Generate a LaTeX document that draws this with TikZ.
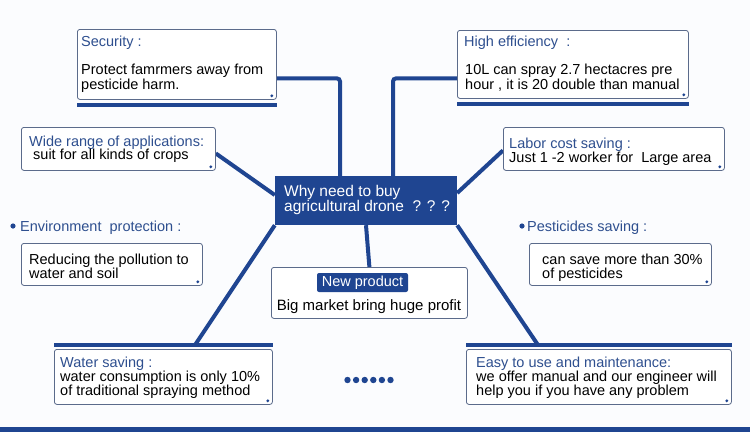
\documentclass[tikz,border=0pt]{standalone}
\usepackage{fontspec}
\setmainfont{Liberation Sans}
\usetikzlibrary{positioning, backgrounds}
\definecolor{dronblue}{HTML}{1F4591}
\definecolor{titleblue}{HTML}{2E4F8F}
\definecolor{boxline}{HTML}{5B6B8B}
\definecolor{paper}{HTML}{FBFCFE}

\begin{document}
\begin{tikzpicture}[x=1pt, y=-1pt,
    infobox/.style={draw=boxline, line width=0.8pt, rounded corners=2.5pt, fill=white, anchor=north west, inner sep=0pt},
    titletext/.style={text=titleblue, anchor=base west, inner sep=0pt, font=\fontsize{14.5}{14}\selectfont},
    bodytext/.style={text=black, anchor=base west, inner sep=0pt, align=left, font=\fontsize{14.5}{14}\selectfont},
    link/.style={draw=dronblue, line width=4pt, rounded corners=3pt},
    bar/.style={draw=dronblue, line width=4pt}]
    \useasboundingbox (0,0) rectangle (750,432);

    % boxes
    \node[infobox, minimum width=199, minimum height=70] (secbox) at (77,29) {};
    \node[infobox, minimum width=231, minimum height=68] (heffbox) at (457,30) {};
    \node[infobox, minimum width=194, minimum height=43] (widebox) at (21,127) {};
    \node[infobox, minimum width=221, minimum height=43] (laborbox) at (503,127) {};
    \node[infobox, minimum width=181, minimum height=42] (envbox) at (21,243) {};
    \node[infobox, minimum width=182, minimum height=42] (pestbox) at (529,243) {};
    \node[infobox, minimum width=196, minimum height=51] (newbox) at (271,267) {};
    \node[infobox, minimum width=218, minimum height=55] (waterbox) at (54,349) {};
    \node[infobox, minimum width=265, minimum height=55] (easybox) at (466,349) {};
    \node[fill=dronblue, minimum width=182, minimum height=49, inner sep=0pt] (why) at (366,200.5) {};

    \coordinate (wsjoin) at (195,345);
    \coordinate (ezjoin) at (538,345);

    \begin{scope}[on background layer]
        \fill[paper] (0,0) rectangle (750,432);
        \draw[link] ([yshift=-14pt]secbox.east) -| ([xshift=-26pt]why.north);
        \draw[link] ([yshift=-14pt]heffbox.west) -| ([xshift=27pt]why.north);
        \draw[link] ([yshift=-4.5pt]widebox.east) -- ([yshift=5.5pt]why.west);
        \draw[link] ([yshift=-1.5pt]laborbox.west) -- ([yshift=7.5pt]why.east);
        \draw[link] (why.south) -- (newbox.north);
        \draw[link] (why.south west) -- (wsjoin);
        \draw[link] (why.south east) -- (ezjoin);
    \end{scope}

    \draw[bar] ([yshift=-5pt]secbox.south west) -- ([yshift=-5pt]secbox.south east);
    \draw[bar] ([yshift=-5pt]heffbox.south west) -- ([yshift=-5pt]heffbox.south east);
    \draw[bar] ([yshift=4pt]waterbox.north west) -- ([yshift=4pt]waterbox.north east);
    \draw[bar] ([yshift=4pt]easybox.north west) -- ([yshift=4pt]easybox.north east);

    \foreach \b in {secbox,heffbox,widebox,laborbox,envbox,pestbox,waterbox,easybox}
        \fill[dronblue] ([shift={(-5pt,4pt)}]\b.south east) circle (1.6pt);

    % texts (multi-line: base is the last line)
    \node[white, anchor=base west, inner sep=0pt, align=left, font=\fontsize{15.5}{15}\selectfont] (whytext) at (284,211) {Why need to buy\\agricultural drone~~? ? ?};

    \node[titletext] (sectitle) at (81,46) {Security :};
    \node[bodytext, font=\fontsize{14.5}{13.5}\selectfont] (sectext) at (81,89) {Protect famrmers away from\\pesticide harm.};

    \node[titletext] (hefftitle) at (464,46) {High efficiency~~:};
    \node[bodytext, font=\fontsize{14.5}{13.5}\selectfont] (hefftext) at (465,89) {10L can spray 2.7 hectacres pre\\hour , it is 20 double than manual};

    \node[titletext] (widetitle) at (29,146) {Wide range of applications:};
    \node[bodytext] (widetext) at (33,159.5) {suit for all kinds of crops};

    \node[titletext] (labortitle) at (509,148) {Labor cost saving :};
    \node[bodytext] (labortext) at (509,162) {Just 1 -2 worker for~~Large area};

    \fill[dronblue] (13,226) circle (2.6pt);
    \node[titletext] (envtitle) at (20,231) {Environment~~protection :};
    \node[bodytext] (envtext) at (29,278) {Reducing the pollution to\\water and soil};

    \fill[dronblue] (522,226) circle (2.6pt);
    \node[titletext] (pesttitle) at (527,231) {Pesticides saving :};
    \node[bodytext] (pesttext) at (542,278) {can save more than 30\%\\of pesticides};

    \node[fill=dronblue, text=white, rounded corners=2pt, minimum width=91, minimum height=19, inner sep=0pt,
        font=\fontsize{14.5}{14}\selectfont] (newtag) at (362.5,282.5) {New product};
    \node[bodytext, anchor=base, font=\fontsize{15}{15}\selectfont] (newtext) at (369,310) {Big market bring huge profit};

    \node[titletext] (watertitle) at (60,367) {Water saving :};
    \node[bodytext] (watertext) at (60,395) {water consumption is only 10\%\\of traditional spraying method};

    \node[titletext] (easytitle) at (476,367) {Easy to use and maintenance:};
    \node[bodytext] (easytext) at (476,395) {we offer manual and our engineer will\\help you if you have any problem};

    \foreach \i in {0,...,5}
        \fill[dronblue] (347.5+8.6*\i,380) circle (3.2pt);

    \fill[dronblue] (0,427) rectangle (750,432);
\end{tikzpicture}
\end{document}
